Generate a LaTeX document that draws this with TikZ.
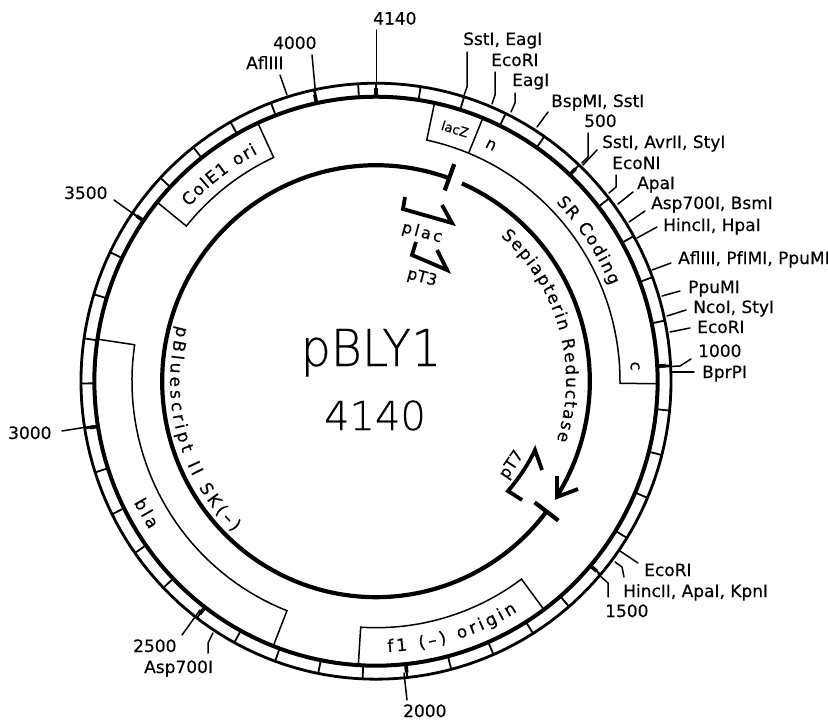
\documentclass[tikz,border=0pt]{standalone}
\usepackage{fontspec}
\setmainfont[FakeBold=0.4]{DejaVu Sans}
\newfontfamily\thinf[FakeBold=0.3]{DejaVu Sans ExtraLight}
\newfontfamily\plaf[LetterSpace=16,FakeBold=0.4]{DejaVu Sans}
\newcommand\lblsize{\fontsize{17}{20}\selectfont}
\newcommand\smsize{\fontsize{16}{18}\selectfont}
\tikzset{
  lbl/.style={anchor=west,inner sep=0pt,text height=12pt,text depth=0pt,font=\lblsize},
  leader/.style={line width=1.5pt,line join=round,line cap=round},
  ringline/.style={line width=1.8pt},
  thinring/.style={line width=2.8pt},
  thickring/.style={line width=4pt},
  bigtick/.style={line width=3.6pt},
  featbox/.style={line width=1.5pt,line join=miter},
  genearc/.style={line width=4.2pt},
  prom/.style={line width=3.8pt,line join=miter},
  rotlbl/.style={inner sep=0pt,font=\smsize},
  arcchar/.style={inner sep=0pt,anchor=base,font=\lblsize}
}
\newcommand\site[5]{%
  \node[lbl] (#1) at (#2) {#3};
  \coordinate (#1a) at (#4);
  \draw[leader] (#1a) #5;
}
% name, radius, start angle, direction (1 clockwise with tops outward, -1 anticlockwise with tops inward), extra gap, character/width pairs
\newcommand\arctext[6]{%
  \pgfmathsetmacro\curang{#3}\global\let\curang\curang
  \foreach \ch/\cw [count=\ci] in {#6} {%
    \pgfmathsetmacro\wid{\cw*17}%
    \pgfmathsetmacro\midang{\curang+#4*(\wid/2)/#2*57.2958}%
    \pgfmathsetmacro\rotang{#4>0 ? -\midang : 180-\midang}%
    \node[arcchar,rotate=\rotang] (#1\ci) at ({\midang-90}:#2) {\ch};
    \pgfmathsetmacro\newang{\curang+#4*(\wid+#5)/#2*57.2958}%
    \global\let\curang\newang
  }%
}
\newcommand\featbox[3]{%
  \draw[featbox] plot[domain=#1:#2,samples=40] ({\x-90}:#3)
     -- ({#2-90}:284) -- plot[domain=#2:#1,samples=40] ({\x-90}:284) -- cycle;
}
\begin{document}
\begin{tikzpicture}[x=1pt,y=-1pt]
\useasboundingbox (0,0) rectangle (828,720);
\fill[white] (0,0) rectangle (828,720);
\begin{scope}[shift={(376,381.2)},x=.99pt]
  % restriction-map ring
  \draw[thinring] plot[domain=0:360,samples=181] ({\x-90}:298) -- cycle;
  \draw[thickring] plot[domain=0:360,samples=181] ({\x-90}:284.5) -- cycle;
  \foreach \k in {0,...,41}
    \draw[ringline] ({\k*8.6957-90}:284.5) -- ({\k*8.6957-90}:298);
  \foreach \m in {0,...,8}
    \draw[bigtick] ({\m*43.478-90}:284.5) -- ({\m*43.478-90}:293);
  % feature boxes
  \featbox{12}{90.5}{246.5}
  \draw[featbox] ({22.3-90}:246.5) -- ({22.3-90}:284);
  \featbox{309}{335.2}{246.5}
  \featbox{201.4}{278.5}{246.5}
  \featbox{143.4}{183.6}{246.5}
  % backbone and insert
  \draw[genearc] plot[domain=20:-232.9,samples=150] ({\x-90}:216);
  \draw[genearc] ({20-90}:203) -- ({20-90}:231);
  \draw[genearc] ({127.1-90}:201) -- ({127.1-90}:231);
  \draw[genearc] plot[domain=23.7:122,samples=60] ({\x-90}:216);
  % text on curves
  \arctext{sep}{192}{41}{1}{1.6}{S/.635,e/.615,p/.635,i/.278,a/.613,p/.635,t/.392,e/.615,r/.411,i/.278,n/.634,~/.318,R/.695,e/.615,d/.635,u/.634,c/.55,t/.392,a/.613,s/.521,e/.615}
  \arctext{blu}{208}{285.5}{-1}{3.4}{p/.635,B/.686,l/.278,u/.634,e/.615,s/.521,c/.55,r/.411,i/.278,p/.635,t/.392,~/.318,I/.295,I/.295,~/.318,S/.635,K/.656,{(}/.39,{–}/.5,{)}/.39}
  \arctext{col}{257}{312.7}{1}{1.5}{C/.698,o/.612,l/.278,E/.632,1/.636,~/.318,o/.612,r/.411,i/.278}
  \arctext{fon}{271}{177.5}{-1}{3.4}{f/.352,1/.636,~/.318,{(}/.39,{–}/.5,{)}/.39,~/.318,o/.612,r/.411,i/.278,g/.635,i/.278,n/.634}
  \arctext{src}{255}{45.5}{1}{1.6}{S/.635,R/.695,~/.318,C/.698,o/.612,d/.635,i/.278,n/.634,g/.635}
\end{scope}
% arrow head of the insert and promoters
\coordinate (sTip) at (557,497);
\draw[prom] (557,476) -- (sTip) -- (578,489);
\coordinate (pl) at (405,197);
\draw[prom] (pl) -- (403,209) -- (452,223) -- (442,205);
\coordinate (pt) at (416,242);
\draw[prom] (pt) -- (412,255) -- (447,270) -- (437,250);
\coordinate (ps) at (522,500);
\draw[prom] (ps) -- (508,491) .. controls (519,478) and (528,465) .. (535,450) -- (542,470);
\node[rotlbl,rotate=-15] (plac) at (422,233) {\plaf plac};
\node[rotlbl,rotate=-15] (pT3) at (422,278) {pT3};
\node[rotlbl,rotate=56] (pT7) at (512,465) {pT7};
\node[rotlbl,rotate=-17,font=\fontsize{13}{15}\selectfont] (lacZ) at (455,129) {lacZ};
\node[rotlbl,rotate=-26] (nn) at (491,145) {n};
\node[rotlbl,rotate=-87] (cc) at (635,366) {c};
\node[rotlbl,rotate=-60,font=\lblsize] (bla) at (147,513) {\plaf bla};
% centre
\node[inner sep=0pt,anchor=base,xscale=.93,transform shape,font=\fontsize{51}{56}\selectfont\thinf] (name) at (371,366) {pBLY1};
\node[inner sep=0pt,anchor=base,font=\fontsize{40}{44}\selectfont\thinf] (size) at (375,430) {4140};
% sites
\site{a01}{373,18.5}{4140}{376.7,30}{-- (376.7,90)}
\site{a02}{463,39}{SstI, EagI}{467,52}{-- (467,87) -- (463,98)}
\site{a03}{491,60}{EcoRI}{495,72}{-- (495,95) -- (492,104)}
\site{a04}{512,80}{EagI}{515,93}{-- (515,103) -- (511,112)}
\site{a05}{551,101}{BspMI, SstI}{548,112}{-- (537,127)}
\site{a06}{584,121}{500}{588,133}{-- (588,157) -- (582,163)}
\site{a07}{602,142}{SstI, AvrII, StyI}{597,150}{-- (583,165)}
\site{a08}{612,163}{EcoNI}{616,175}{-- (616,187) -- (609,193)}
\site{a09}{637,183}{ApaI}{633,192}{-- (618,204)}
\site{a10}{651,203}{Asp700I, BsmI}{645,211}{-- (629,222)}
\site{a11}{663,225}{HincII, HpaI}{657,227}{-- (637,238)}
\site{a12}{678,258}{AflIII, PfIMI, PpuMI}{671,263}{-- (652,270)}
\site{a13}{688,287}{PpuMI}{680,291}{-- (662,296)}
\site{a14}{693,307}{NcoI, StyI}{686,310}{-- (667,316)}
\site{a15}{697,327}{EcoRI}{690,328}{-- (670,332)}
\site{a16}{698,351}{1000}{691,359}{-- (680,366) -- (660,367)}
\site{a17}{702,372}{BprPI}{694,372}{-- (672,372)}
\site{a18}{644,570}{EcoRI}{638,563}{-- (620,551)}
\site{a19}{623,591}{HincII, ApaI, KpnI}{624,577}{-- (622,567) -- (615,562)}
\site{a20}{605,611}{1500}{608,597}{-- (608,583) -- (598,574)}
\site{a21}{403,711}{2000}{407,700}{-- (404,673)}
\site{a22}{133,646}{2500}{182,635}{-- (200,610)}
\site{a23}{144,667}{Asp700I}{208,653}{-- (208,643) -- (213,633)}
\site{a24}{8,433}{3000}{62,431}{-- (93,426)}
\site{a25}{64,193}{3500}{114,200}{-- (142,220)}
\site{a26}{273,43}{4000}{312,55}{-- (316,98)}
\site{a27}{246,63}{AflIII}{280,75}{-- (287,95)}
\end{tikzpicture}
\end{document}
